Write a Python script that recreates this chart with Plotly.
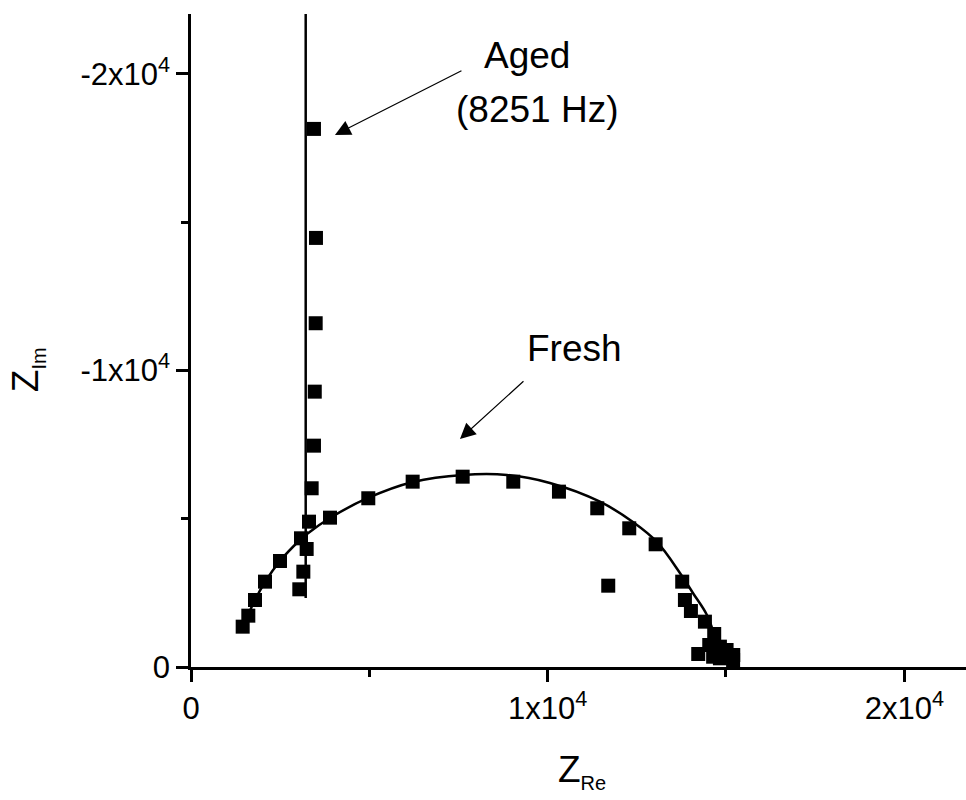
import plotly.graph_objects as go

# Fresh cell: measured impedance points (Z_Re, Z_Im in ohm)
fresh_re = [1449, 1607, 1794, 2075, 2495, 3084, 3897, 4971, 6215, 7617, 9036,
            10317, 11391, 12288, 13028, 11699, 13773, 13849, 14017, 14410, 14670,
            14222, 14531, 14830, 15017, 15204, 15200, 14830, 14640]
fresh_im = [-1360, -1731, -2260, -2878, -3575, -4340, -5036, -5690, -6250, -6418, -6250,
            -5913, -5352, -4677, -4138, -2742, -2878, -2260, -1889, -1529, -1113,
            -438, -742, -686, -573, -405, -236, -293, -347]

# Fresh cell: equivalent-circuit fit
fresh_fit_re = [1449, 1794, 2075, 2495, 3056, 3252, 3897, 4962, 6224, 7625, 8859,
                10064, 11466, 12391, 13064, 13709, 14073, 14466, 14718]
fresh_fit_im = [-1349, -2260, -2867, -3575, -4283, -4486, -5025, -5700, -6239, -6476, -6476,
                -6206, -5575, -4890, -4216, -3170, -2496, -1754, -911]

# Aged cell: measured impedance points
aged_re = [3448, 3504, 3496, 3470, 3448, 3383, 3308, 3243, 3150, 3037]
aged_im = [-18145, -14469, -11592, -9285, -7464, -6027, -4901, -3980, -3215, -2620]

# Aged cell: fit (purely capacitive branch)
aged_fit_re = [3216, 3216]
aged_fit_im = [-2330, -24000]

x_ticks = [0, 10000, 20000]
x_ticktext = ["0", "1x10<sup>4</sup>", "2x10<sup>4</sup>"]
y_ticks = [0, -10000, -20000]
y_ticktext = ["0", "-1x10<sup>4</sup>", "-2x10<sup>4</sup>"]

FONT = "Arial, Liberation Sans, sans-serif"

fig = go.Figure()
fig.add_trace(go.Scatter(x=fresh_fit_re, y=fresh_fit_im, mode="lines",
                         line=dict(color="black", width=2.5, shape="spline"),
                         showlegend=False, hoverinfo="skip"))
fig.add_trace(go.Scatter(x=aged_fit_re, y=aged_fit_im, mode="lines",
                         line=dict(color="black", width=2.5),
                         showlegend=False, hoverinfo="skip"))
fig.add_trace(go.Scatter(x=fresh_re, y=fresh_im, mode="markers",
                         marker=dict(symbol="square", size=14, color="black"),
                         showlegend=False))
fig.add_trace(go.Scatter(x=aged_re, y=aged_im, mode="markers",
                         marker=dict(symbol="square", size=14, color="black"),
                         showlegend=False))

axis_common = dict(
    showline=True, linewidth=2.5, linecolor="black",
    showgrid=False, zeroline=False,
    ticks="outside", ticklen=12, tickwidth=2.5, tickcolor="black",
    tickfont=dict(family=FONT, size=31, color="black"),
    tickmode="array",
)

fig.update_xaxes(range=[0, 21730], tickvals=x_ticks, ticktext=x_ticktext,
                 minor=dict(tickvals=[5000, 15000], ticks="outside", ticklen=7,
                            tickwidth=2.5, tickcolor="black"),
                 **axis_common)
fig.update_yaxes(range=[0, -22020], tickvals=y_ticks, ticktext=y_ticktext,
                 minor=dict(tickvals=[-5000, -15000], ticks="outside", ticklen=7,
                            tickwidth=2.5, tickcolor="black"),
                 **axis_common)

label_font = dict(family=FONT, size=37, color="black")
annotations = [
    # curve labels
    dict(x=9420, y=-20624, xref="x", yref="y", text="Aged", showarrow=False,
         font=label_font, xanchor="center", yanchor="middle"),
    dict(x=9700, y=-18803, xref="x", yref="y", text="(8251 Hz)", showarrow=False,
         font=label_font, xanchor="center", yanchor="middle"),
    dict(x=10765, y=-10742, xref="x", yref="y", text="Fresh", showarrow=False,
         font=label_font, xanchor="center", yanchor="middle"),
    # arrows pointing to the curves
    dict(x=4037, y=-17943, ax=7625, ay=-20135, xref="x", yref="y", axref="x", ayref="y",
         text="", showarrow=True, arrowhead=2, arrowsize=2.6, arrowwidth=1.2, arrowcolor="black"),
    dict(x=7541, y=-7690, ax=9364, ay=-9680, xref="x", yref="y", axref="x", ayref="y",
         text="", showarrow=True, arrowhead=2, arrowsize=2.6, arrowwidth=1.2, arrowcolor="black"),
    # axis titles
    dict(x=0.505, y=-0.16, xref="paper", yref="paper", showarrow=False,
         text="Z<sub><span style='font-size:20px'>Re</span></sub>",
         font=label_font, xanchor="center", yanchor="middle"),
    dict(x=-0.21, y=0.455, xref="paper", yref="paper", showarrow=False, textangle=-90,
         text="Z<sub><span style='font-size:20px'>Im</span></sub>",
         font=label_font, xanchor="center", yanchor="middle"),
]

fig.update_layout(
    width=966, height=800,
    margin=dict(l=191, r=0, t=14, b=133),
    paper_bgcolor="white", plot_bgcolor="white",
    annotations=annotations,
    font=dict(family=FONT, color="black"),
)

fig.write_html("out.html", config={"displayModeBar": False})
